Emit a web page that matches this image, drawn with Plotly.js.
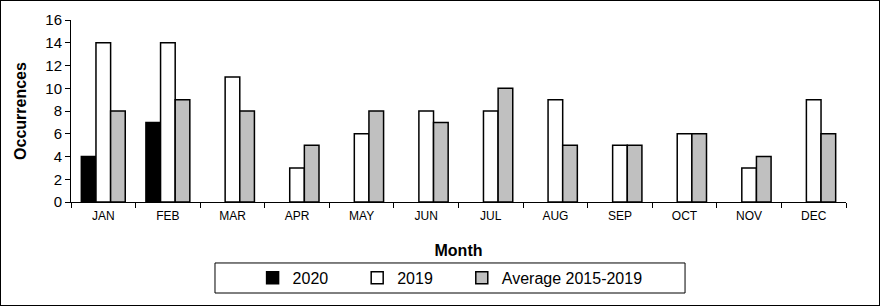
<!DOCTYPE html>
<html>
<head>
<meta charset="utf-8">
<script src="https://cdn.plot.ly/plotly-3.0.1.min.js"></script>
<style>
  body { margin: 0; background: #fff; }
  #frame { width: 880px; height: 306px; box-sizing: border-box; border: 1px solid #000; }
  #chart { width: 878px; height: 304px; }
</style>
</head>
<body>
<div id="frame"><div id="chart"></div></div>
<script>
const months = ["JAN", "FEB", "MAR", "APR", "MAY", "JUN", "JUL", "AUG", "SEP", "OCT", "NOV", "DEC"];
const y2020 = [4, 7, null, null, null, null, null, null, null, null, null, null];
const y2019 = [14, 14, 11, 3, 6, 8, 8, 9, 5, 6, 3, 9];
const avg1519 = [8, 9, 8, 5, 8, 7, 10, 5, 5, 6, 4, 6];
const seriesNames = ["2020", "2019", "Average 2015-2019"];

const font = "Liberation Sans, Arial, sans-serif";
const outline = { color: "#000", width: 1.5 };
const pad = "\u2002\u2002\u2002"; // spread the legend entries out like the original

const traces = [
  { type: "bar", x: months, y: y2020, name: seriesNames[0] + pad, marker: { color: "#000", line: outline } },
  { type: "bar", x: months, y: y2019, name: seriesNames[1] + pad, marker: { color: "#fff", line: outline } },
  { type: "bar", x: months, y: avg1519, name: seriesNames[2], marker: { color: "#c0c0c0", line: outline } },
];

const layout = {
  width: 878,
  height: 304,
  margin: { l: 70, r: 33, t: 19, b: 103 },
  paper_bgcolor: "#fff",
  plot_bgcolor: "#fff",
  font: { family: font, color: "#000", size: 13 },
  barmode: "group",
  bargap: 0.32,
  bargroupgap: 0,
  showlegend: true,
  xaxis: {
    showline: true,
    linecolor: "#000",
    linewidth: 1,
    ticks: "outside",
    tickson: "boundaries",
    ticklen: 5,
    tickcolor: "#000",
    tickfont: { size: 12 },
    ticklabelstandoff: 3,
    title: { text: "Month", font: { size: 16, weight: "bold" }, standoff: 22 },
  },
  yaxis: {
    range: [0, 16],
    dtick: 2,
    showgrid: false,
    zeroline: false,
    showline: true,
    linecolor: "#000",
    linewidth: 1,
    ticks: "outside",
    ticklen: 5,
    tickcolor: "#000",
    tickfont: { size: 15 },
    title: { text: "Occurrences", font: { size: 16, weight: "bold" }, standoff: 14 },
  },
  legend: {
    orientation: "h",
    xref: "container",
    yref: "container",
    x: 0.5115,
    xanchor: "center",
    y: 0.145,
    yanchor: "top",
    borderwidth: 0,
    bgcolor: "rgba(0,0,0,0)",
    itemwidth: 30,
    font: { size: 16 },
    traceorder: "normal",
  },
  // legend frame, wider than plotly's own legend box
  shapes: [{
    type: "rect", xref: "paper", yref: "paper",
    x0: 0.1858, x1: 0.7923, y0: -0.5, y1: -0.335,
    line: { color: "#000", width: 1 }, fillcolor: "rgba(0,0,0,0)",
  }],
};

Plotly.newPlot("chart", traces, layout, { staticPlot: true });
</script>
</body>
</html>
